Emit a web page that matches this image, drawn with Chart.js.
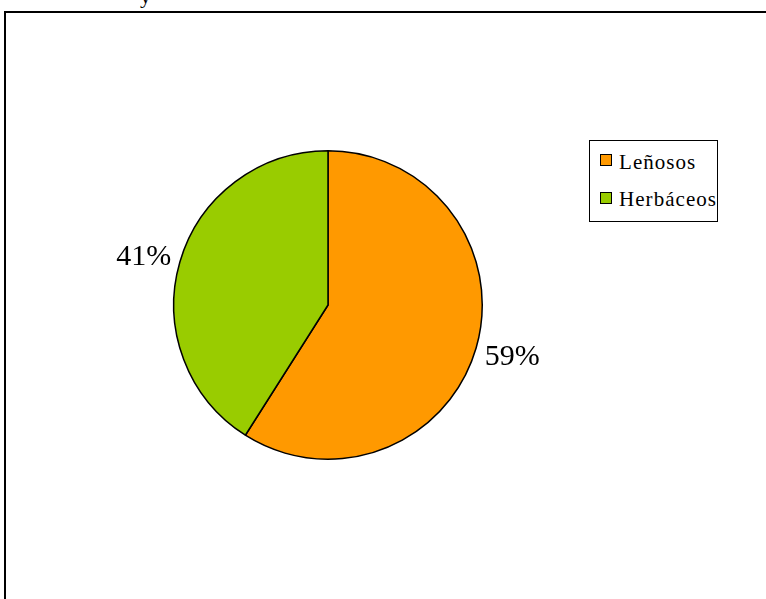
<!DOCTYPE html>
<html>
<head>
<meta charset="utf-8">
<script src="https://cdn.jsdelivr.net/npm/chart.js@4"></script>
<style>
  html, body { margin: 0; padding: 0; background: #fff; overflow: hidden; }
  #wrap { position: relative; width: 766px; height: 599px; }
  #frame { position: absolute; left: 4px; top: 11px; width: 800px; height: 700px; border: 2px solid #000; box-sizing: border-box; }
  #cut { position: absolute; left: 140px; top: -17px; font: 22px "Liberation Serif", serif; }
  #legend { position: absolute; left: 589px; top: 140px; width: 129px; height: 82px; border: 1.5px solid #000; box-sizing: border-box;
            font: 21px "Liberation Serif", serif; letter-spacing: 1.05px; background: #fff; }
  #legend .txt { position: absolute; left: 29px; line-height: 21px; white-space: nowrap; }
  #legend .sq { position: absolute; left: 9.5px; width: 12px; height: 12px; border: 1.5px solid #000; box-sizing: border-box; }
  canvas { position: absolute; left: 0; top: 0; }
</style>
</head>
<body>
<div id="wrap">
  <div id="cut">y</div>
  <div id="frame"></div>
  <canvas id="pie" width="766" height="599"></canvas>
  <div id="legend"></div>
</div>
<script>
// pie data
const labels = ['Leñosos', 'Herbáceos'];
const values = [59, 41];
const colors = ['#FF9900', '#99CC00'];

// legend, built from the arrays
const legendBox = document.getElementById('legend');
labels.forEach(function(name, i) {
  const sq = document.createElement('div');
  sq.className = 'sq';
  sq.style.top = (12.5 + i * 38) + 'px';
  sq.style.background = colors[i];
  legendBox.appendChild(sq);
  const txt = document.createElement('div');
  txt.className = 'txt';
  txt.style.top = (11 + i * 37) + 'px';
  txt.textContent = name;
  legendBox.appendChild(txt);
});

// percent labels outside the slices
const outsideLabels = {
  id: 'outsideLabels',
  afterDatasetsDraw(chart) {
    const ctx = chart.ctx;
    const total = values.reduce((a, b) => a + b, 0);
    ctx.save();
    ctx.font = '30px "Liberation Serif", serif';
    ctx.fillStyle = '#000';
    ctx.textAlign = 'center';
    ctx.textBaseline = 'middle';
    chart.getDatasetMeta(0).data.forEach(function(arc, i) {
      const mid = (arc.startAngle + arc.endAngle) / 2;
      const x = arc.x + Math.cos(mid) * (arc.outerRadius + 37.5);
      const y = arc.y + 2.5 + Math.sin(mid) * (arc.outerRadius + 25);
      ctx.fillText(Math.round(values[i] / total * 100) + '%', x, y);
    });
    ctx.restore();
  }
};

new Chart(document.getElementById('pie'), {
  type: 'pie',
  data: {
    labels: labels,
    datasets: [{
      data: values,
      backgroundColor: colors,
      borderColor: '#000',
      borderWidth: 1.5
    }]
  },
  options: {
    responsive: false,
    animation: false,
    layout: { padding: { left: 173, right: 283, top: 150, bottom: 139 } },
    plugins: {
      legend: { display: false },
      tooltip: { enabled: false }
    }
  },
  plugins: [outsideLabels]
});
</script>
</body>
</html>
